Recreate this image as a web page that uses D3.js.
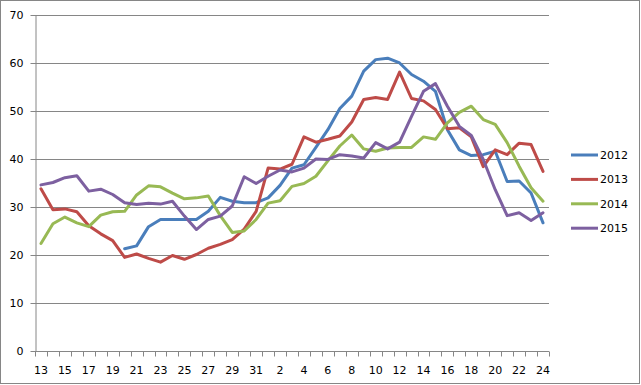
<!DOCTYPE html>
<html>
<head>
<meta charset="utf-8">
<script src="https://cdn.jsdelivr.net/npm/d3@7"></script>
<style>
  body { margin: 0; background: #fff; }
  text { font-family: "DejaVu Sans", sans-serif; font-size: 10px; fill: #000; }
</style>
</head>
<body>
<script>
// x categories: days 13..31 of one month, then 1..24 of the next
const days = [13,14,15,16,17,18,19,20,21,22,23,24,25,26,27,28,29,30,31,
  1,2,3,4,5,6,7,8,9,10,11,12,13,14,15,16,17,18,19,20,21,22,23,24];
const categories = days.map((d, i) => i + ":" + d);
const yTicks = [0, 10, 20, 30, 40, 50, 60, 70];

const seriesNames = ["2012", "2013", "2014", "2015"];
const colors = ["#4a7ebb", "#be4b48", "#98b954", "#7d60a0"];

const v2012 = [null,null,null,null,null,null,null,21.2,21.8,25.8,27.3,27.3,27.3,27.3,29.0,31.9,31.1,30.8,30.8,
  31.8,34.4,38.0,38.7,42.3,46.0,50.4,53.0,58.2,60.6,60.9,59.9,57.5,56.1,54.0,46.0,41.8,40.6,40.8,41.5,35.2,35.3,32.8,26.6];
const v2013 = [33.7,29.3,29.5,28.9,26.0,24.3,22.9,19.4,20.1,19.2,18.4,19.8,19.0,20.0,21.3,22.1,23.1,25.3,29.0,
  38.0,37.8,38.8,44.5,43.4,44.0,44.7,47.6,52.3,52.7,52.3,58.0,52.5,52.0,50.2,46.2,46.4,44.5,38.3,41.8,40.8,43.2,42.9,37.3];
const v2014 = [22.3,26.4,27.8,26.6,25.8,28.2,28.9,29.0,32.4,34.3,34.1,32.8,31.6,31.8,32.2,28.1,24.6,24.9,27.3,
  30.7,31.2,34.2,34.8,36.3,39.5,42.6,44.9,42.0,41.5,42.2,42.3,42.3,44.5,44.0,47.4,49.6,50.9,48.1,47.1,43.3,38.4,33.9,31.1];
const v2015 = [34.5,35.0,36.0,36.4,33.2,33.6,32.5,30.8,30.4,30.7,30.5,31.1,28.0,25.2,27.3,28.0,30.1,36.2,34.8,
  36.3,37.6,37.2,38.0,39.9,39.8,40.8,40.5,40.1,43.3,42.0,43.4,48.8,54.0,55.6,50.9,46.7,44.8,39.8,33.5,28.1,28.7,27.1,28.7];
const seriesValues = [v2012, v2013, v2014, v2015];

const W = 641, H = 385;
const margin = { top: 14.5, right: 92, bottom: 34.5, left: 35 };

const svg = d3.select("body").append("svg")
  .attr("width", W)
  .attr("height", H);

// chart border
svg.append("rect")
  .attr("x", 0.5).attr("y", 0.5)
  .attr("width", 639).attr("height", 383)
  .attr("fill", "#fff")
  .attr("stroke", "#868686");

const x = d3.scaleBand()
  .domain(categories)
  .range([margin.left, W - margin.right]);

const y = d3.scaleLinear()
  .domain([0, 70])
  .range([H - margin.bottom, margin.top]);

// horizontal gridlines
svg.append("g")
  .selectAll("line")
  .data(yTicks.slice(1))
  .join("line")
    .attr("x1", margin.left)
    .attr("x2", W - margin.right)
    .attr("y1", d => Math.round(y(d)) + 0.5)
    .attr("y2", d => Math.round(y(d)) + 0.5)
    .attr("stroke", "#868686");

// y axis
const yAxis = svg.append("g")
  .attr("transform", `translate(${margin.left + 0.5},0.5)`)
  .call(d3.axisLeft(y).tickValues(yTicks).tickSize(5).tickPadding(7).tickSizeOuter(0));
yAxis.select(".domain").attr("stroke", "#868686");
yAxis.selectAll(".tick line").attr("stroke", "#868686");
yAxis.selectAll(".tick text").style("font-size", "11px");

// x axis with ticks between categories
const xAxisG = svg.append("g")
  .attr("transform", `translate(0,${Math.round(y(0)) + 0.5})`);
xAxisG.append("line")
  .attr("x1", margin.left).attr("x2", W - margin.right)
  .attr("stroke", "#868686");
xAxisG.selectAll(".xt")
  .data(categories.concat(["end"]))
  .join("line")
    .attr("class", "xt")
    .attr("x1", (d, i) => Math.round(margin.left + i * x.step()) + 0.5)
    .attr("x2", (d, i) => Math.round(margin.left + i * x.step()) + 0.5)
    .attr("y1", 0).attr("y2", 5)
    .attr("stroke", "#868686");
xAxisG.selectAll(".xl")
  .data(categories.filter((d, i) => i % 2 === 0))
  .join("text")
    .attr("class", "xl")
    .attr("x", d => x(d) + x.bandwidth() / 2)
    .attr("y", 22)
    .attr("text-anchor", "middle")
    .style("font-size", "11px")
    .text(d => d.split(":")[1]);

// lines
const line = d3.line()
  .defined(d => d.v !== null)
  .x(d => x(d.c) + x.bandwidth() / 2)
  .y(d => y(d.v));

seriesValues.forEach((vals, s) => {
  svg.append("path")
    .datum(vals.map((v, i) => ({ c: categories[i], v: v })))
    .attr("fill", "none")
    .attr("stroke", colors[s])
    .attr("stroke-width", 3)
    .attr("stroke-linejoin", "round")
    .attr("stroke-linecap", "round")
    .attr("d", line);
});

// legend
const legend = svg.append("g")
  .attr("transform", "translate(571,155)");
seriesNames.forEach((name, i) => {
  legend.append("line")
    .attr("x1", 0).attr("x2", 27)
    .attr("y1", i * 24.4).attr("y2", i * 24.4)
    .attr("stroke", colors[i])
    .attr("stroke-width", 3);
  legend.append("text")
    .attr("x", 29)
    .attr("y", i * 24.4 + 4)
    .style("font-size", "11px")
    .text(name);
});
</script>
</body>
</html>
